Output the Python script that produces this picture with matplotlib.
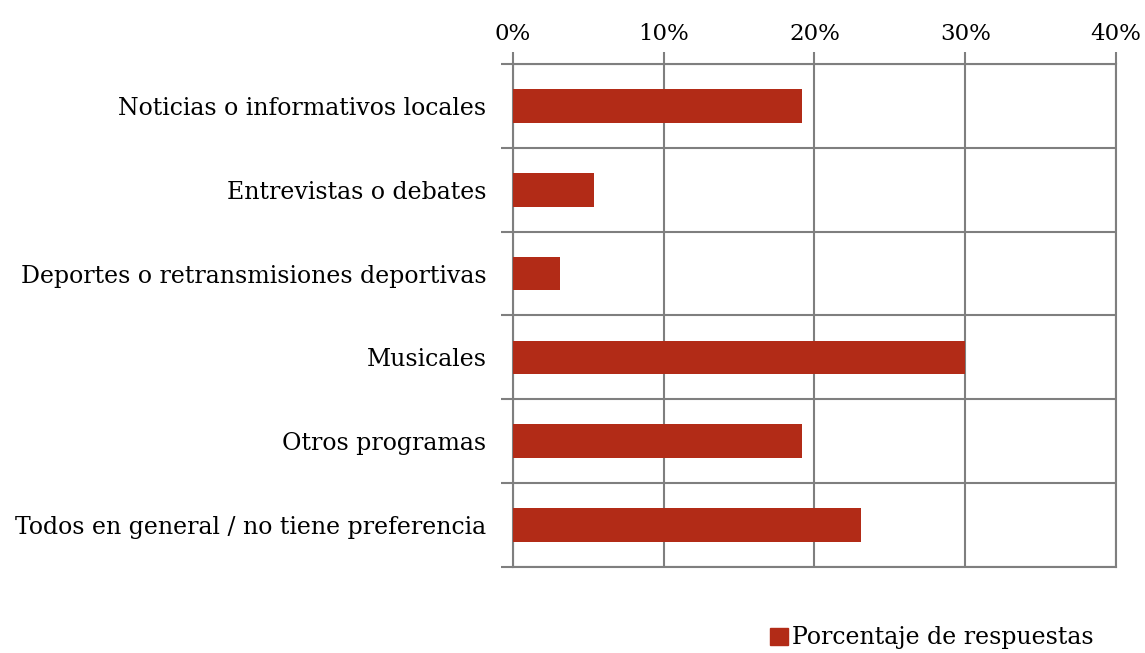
import numpy as np
import matplotlib.pyplot as plt
from matplotlib.patches import Patch
from matplotlib.ticker import FuncFormatter

categorias = ["Noticias o informativos locales",
              "Entrevistas o debates",
              "Deportes o retransmisiones deportivas",
              "Musicales",
              "Otros programas",
              "Todos en general / no tiene preferencia"]
porcentajes = [19.2, 5.4, 3.1, 30.0, 19.2, 23.1]
xticks = [0, 10, 20, 30, 40]

plt.rcParams['font.family'] = ['DejaVu Serif']
grid_col = "#7f7f7f"
bar_col = "#b22b17"

fig = plt.figure(figsize=(11.45, 6.53), dpi=100)
ax = fig.add_axes([0.448, 0.1317, 0.5267, 0.7703])

y = np.arange(len(categorias))
ax.barh(y, porcentajes, height=0.4, color=bar_col, zorder=3)

ax.set_xlim(0, 40)
ax.set_ylim(len(categorias) - 0.5, -0.5)
ax.set_xticks(xticks)
ax.xaxis.set_major_formatter(FuncFormatter(lambda v, p: "%d%%" % v))
ax.xaxis.tick_top()
ax.tick_params(axis='x', length=9, width=1.5, color=grid_col, labelsize=16.5, pad=5)
ax.grid(axis='x', color=grid_col, linewidth=1.5, zorder=1)

ax.set_yticks(y)
ax.set_yticklabels(categorias)
ax.tick_params(axis='y', which='major', length=0, labelsize=17, pad=19)
ax.set_yticks(np.arange(-0.5, len(categorias)), minor=True)
ax.tick_params(axis='y', which='minor', length=9, width=1.5, color=grid_col)
ax.grid(axis='y', which='minor', color=grid_col, linewidth=1.5, zorder=1)

for s in ax.spines.values():
    s.set_color(grid_col)
    s.set_linewidth(1.5)

fig.legend(handles=[Patch(color=bar_col, label="Porcentaje de respuestas")],
           loc='center', bbox_to_anchor=(0.814, 0.023), frameon=False,
           fontsize=17, handlelength=0.75, handleheight=0.75, handletextpad=0.2,
           borderpad=0, borderaxespad=0)

plt.savefig("out.png", dpi=100)
